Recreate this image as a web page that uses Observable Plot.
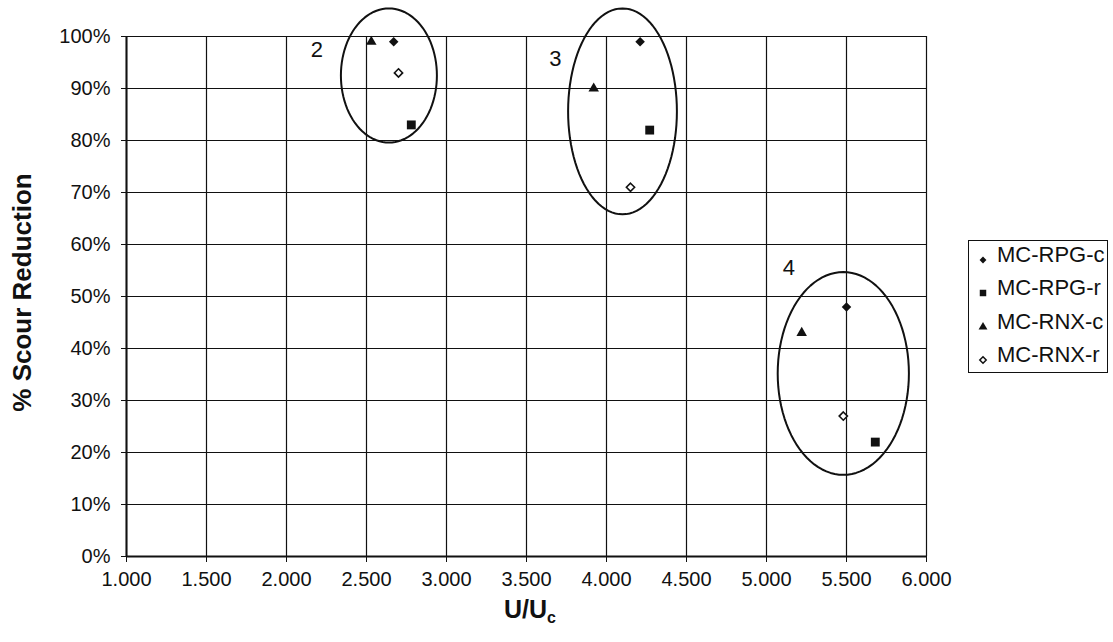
<!DOCTYPE html>
<html><head><meta charset="utf-8">
<script src="https://cdn.jsdelivr.net/npm/d3@7"></script>
<script src="https://cdn.jsdelivr.net/npm/@observablehq/plot@0.6"></script>
<style>
html,body{margin:0;padding:0;background:#fff;}
body{font-family:"Liberation Sans",Arial,sans-serif;color:#111;}
#wrap{position:relative;width:1113px;height:642px;overflow:hidden;}
#legend{position:absolute;left:968px;top:240px;width:140px;height:133px;border:1.5px solid #111;box-sizing:border-box;background:#fff;}
.row{position:absolute;left:0;height:33px;width:138px;}
.row svg{position:absolute;left:7px;top:14px;}
.row span{position:absolute;left:28px;top:4px;font-size:22px;line-height:24px;white-space:nowrap;}
#xtitle{position:absolute;left:0;width:1060px;top:595px;text-align:center;font-size:25px;font-weight:bold;}
#xtitle sub{font-size:16px;vertical-align:-5px;}
</style></head><body>
<div id="wrap"></div>
<script>
// ---- data ----
const seriesNames = ["MC-RPG-c", "MC-RPG-r", "MC-RNX-c", "MC-RNX-r"];
const rpgC_x = [2.67, 4.21, 5.50];
const rpgC_y = [99, 99, 48];
const rpgR_x = [2.78, 4.27, 5.68];
const rpgR_y = [83, 82, 22];
const rnxC_x = [2.53, 3.92, 5.22];
const rnxC_y = [99, 90, 43];
const rnxR_x = [2.70, 4.15, 5.48];
const rnxR_y = [93, 71, 27];
const xTicks = [1.0, 1.5, 2.0, 2.5, 3.0, 3.5, 4.0, 4.5, 5.0, 5.5, 6.0];
const yTicks = [0, 10, 20, 30, 40, 50, 60, 70, 80, 90, 100];
// group ellipses (annotation): centre and radii in data units
const groupLabels = ["2", "3", "4"];
const groupLabelX = [2.19, 3.68, 5.14];
const groupLabelY = [97.5, 95.7, 55.4];
const ellCx = [2.64, 4.10, 5.48];
const ellCy = [92.5, 85.6, 35.2];
const ellRx = [0.30, 0.34, 0.41];
const ellRy = [12.9, 19.8, 19.5];

const toRows = (xs, ys) => xs.map((x, i) => ({x, y: ys[i]}));
const ellipsePts = [];
ellCx.forEach((cx, i) => {
  for (let k = 0; k <= 96; k++) {
    const t = (k / 96) * 2 * Math.PI;
    ellipsePts.push({g: i, x: cx + ellRx[i] * Math.cos(t), y: ellCy[i] + ellRy[i] * Math.sin(t)});
  }
});
const labels = groupLabels.map((t, i) => ({t, x: groupLabelX[i], y: groupLabelY[i]}));

const ink = "#111";
const chart = Plot.plot({
  width: 1113,
  height: 642,
  marginTop: 36,
  marginRight: 187,
  marginBottom: 86,
  marginLeft: 126,
  style: {fontFamily: "'Liberation Sans', Arial, sans-serif", fontSize: "20px", color: ink, background: "#fff"},
  x: {domain: [1, 6]},
  y: {domain: [0, 100]},
  marks: [
    Plot.gridX(xTicks, {stroke: ink, strokeOpacity: 1, strokeWidth: 1.2}),
    Plot.gridY(yTicks, {stroke: ink, strokeOpacity: 1, strokeWidth: 1.2}),
    Plot.ruleX([1], {stroke: ink, strokeWidth: 2}),
    Plot.ruleY([0], {stroke: ink, strokeWidth: 2}),
    Plot.axisX(xTicks, {tickFormat: d3.format(".3f"), tickSize: 6, tickPadding: 9, label: null, fontSize: 20}),
    Plot.axisY(yTicks, {tickFormat: d => d + "%", tickSize: 5, tickPadding: 11, label: null, fontSize: 20}),
    Plot.line(ellipsePts, {x: "x", y: "y", z: "g", stroke: ink, strokeWidth: 2, curve: "linear"}),
    Plot.text(labels, {x: "x", y: "y", text: "t", fontSize: 22, fill: ink}),
    Plot.dot(toRows(rpgC_x, rpgC_y), {x: "x", y: "y", symbol: "diamond2", r: 4.3, fill: ink, stroke: "none"}),
    Plot.dot(toRows(rpgR_x, rpgR_y), {x: "x", y: "y", symbol: "square", r: 5, fill: ink, stroke: "none"}),
    Plot.dot(toRows(rnxC_x, rnxC_y), {x: "x", y: "y", symbol: "triangle", r: 3.9, fill: ink, stroke: "none"}),
    Plot.dot(toRows(rnxR_x, rnxR_y), {x: "x", y: "y", symbol: "diamond2", r: 3.7, fill: "#fff", stroke: ink, strokeWidth: 1.6}),
    Plot.text(["% Scour Reduction"], {frameAnchor: "left", dx: -104, dy: -4, rotate: -90, textAnchor: "middle", text: d => d, fontSize: 26, fontWeight: "bold", fill: ink})
  ]
});
const wrap = document.getElementById("wrap");
wrap.appendChild(chart);

// x-axis title with subscript
const xt = document.createElement("div");
xt.id = "xtitle";
xt.innerHTML = "U/U<sub>c</sub>";
wrap.appendChild(xt);

// legend
const legSymbols = [
  {type: d3.symbolDiamond2, size: 30, fill: ink, stroke: "none"},
  {type: d3.symbolSquare, size: 42, fill: ink, stroke: "none"},
  {type: d3.symbolTriangle, size: 34, fill: ink, stroke: "none"},
  {type: d3.symbolDiamond2, size: 26, fill: "#fff", stroke: ink}
];
const leg = document.createElement("div");
leg.id = "legend";
seriesNames.forEach((name, i) => {
  const row = document.createElement("div");
  row.className = "row";
  row.style.top = (-2 + i * 33.3) + "px";
  const s = legSymbols[i];
  const path = d3.symbol(s.type, s.size)();
  row.innerHTML = `<svg width="14" height="14" viewBox="-7 -7 14 14"><path d="${path}" fill="${s.fill}" stroke="${s.stroke}" stroke-width="1.5"/></svg><span>${name}</span>`;
  leg.appendChild(row);
});
wrap.appendChild(leg);
</script>
</body></html>
